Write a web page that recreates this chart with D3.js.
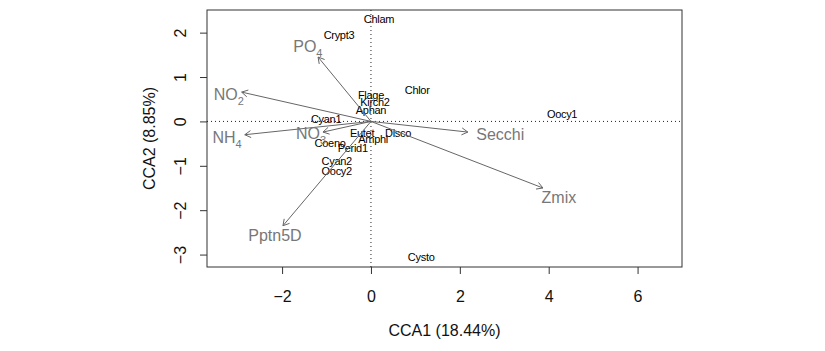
<!DOCTYPE html>
<html>
<head>
<meta charset="utf-8">
<script src="https://cdn.jsdelivr.net/npm/d3@7"></script>
<style>
  body { margin: 0; background: #fff; }
  text { font-family: "Liberation Sans", Arial, sans-serif; }
</style>
</head>
<body>
<div id="chart"></div>
<script>
// Species scores (CCA1, CCA2)
var speciesNames = ["Chlam", "Crypt3", "Flage", "Kirch2", "Aphan", "Chlor", "Oocy1", "Cyan1",
  "Eutet", "Disco", "Amphi", "Coeno", "Perid1", "Cyan2", "Oocy2", "Cysto"];
var speciesX = [0.18, -0.72, 0.00, 0.09, 0.00, 1.04, 4.30, -1.01,
  -0.20, 0.61, 0.05, -0.92, -0.41, -0.77, -0.77, 1.13];
var speciesY = [2.31, 1.95, 0.60, 0.44, 0.26, 0.71, 0.17, 0.06,
  -0.26, -0.26, -0.39, -0.48, -0.60, -0.89, -1.11, -3.05];

// Environmental biplot arrows: name, subscript, arrow tip, label position
var envNames = ["PO", "NO", "NH", "NO", "Secchi", "Zmix", "Pptn5D"];
var envSub = ["4", "2", "4", "3", "", "", ""];
var envX = [-1.19, -2.91, -2.84, -1.08, 2.18, 3.87, -1.98];
var envY = [1.45, 0.66, -0.30, -0.24, -0.24, -1.50, -2.35];
var envLabelX = [-1.42, -3.20, -3.24, -1.35, 2.91, 4.23, -2.16];
var envLabelY = [1.70, 0.60, -0.37, -0.26, -0.30, -1.72, -2.56];

var xTicks = [-2, 0, 2, 4, 6];
var yTicks = [-3, -2, -1, 0, 1, 2];
var xTitle = "CCA1 (18.44%)";
var yTitle = "CCA2 (8.85%)";

var W = 825, H = 351;
var pL = 207, pR = 682, pT = 10, pB = 267;

var svg = d3.select("#chart").append("svg")
  .attr("width", W).attr("height", H);

var x = d3.scaleLinear().domain([-3.69, 7.0]).range([pL, pR]);
var y = d3.scaleLinear().domain([-3.28, 2.51]).range([pB, pT]);
var fmt = d3.format("d");

// Axes
var xAxis = svg.append("g")
  .attr("transform", "translate(0," + pB + ")")
  .call(d3.axisBottom(x).tickValues(xTicks).tickFormat(fmt).tickSize(7).tickPadding(17));
var yAxis = svg.append("g")
  .attr("transform", "translate(" + pL + ",0)")
  .call(d3.axisLeft(y).tickValues(yTicks).tickFormat(fmt).tickSize(7));

[xAxis, yAxis].forEach(function (a) {
  a.select(".domain").remove();
  a.selectAll("line").attr("stroke", "#333");
  a.selectAll("text").attr("font-size", 16).attr("fill", "#111")
    .attr("font-family", "Liberation Sans, Arial, sans-serif");
});
yAxis.selectAll("text")
  .attr("x", 0).attr("dy", 0)
  .attr("text-anchor", "middle")
  .attr("transform", "translate(-21,0) rotate(-90)");

// Box
svg.append("rect")
  .attr("x", pL).attr("y", pT)
  .attr("width", pR - pL).attr("height", pB - pT)
  .attr("fill", "none").attr("stroke", "#333").attr("stroke-width", 1);

// Titles
svg.append("text")
  .attr("x", (pL + pR) / 2).attr("y", 336)
  .attr("text-anchor", "middle").attr("font-size", 16).attr("fill", "#111")
  .text(xTitle);
svg.append("text")
  .attr("transform", "translate(155," + (pT + pB) / 2 + ") rotate(-90)")
  .attr("text-anchor", "middle").attr("font-size", 16).attr("fill", "#111")
  .text(yTitle);

// Zero reference lines
svg.append("line")
  .attr("x1", x(0)).attr("x2", x(0)).attr("y1", pT).attr("y2", pB)
  .attr("stroke", "#222").attr("stroke-dasharray", "1,3");
svg.append("line")
  .attr("x1", pL).attr("x2", pR).attr("y1", y(0)).attr("y2", y(0))
  .attr("stroke", "#222").attr("stroke-dasharray", "1,3");

// Species labels
svg.append("g").selectAll("text")
  .data(speciesNames)
  .join("text")
  .attr("x", function (d, i) { return x(speciesX[i]); })
  .attr("y", function (d, i) { return y(speciesY[i]); })
  .attr("dy", "0.35em")
  .attr("text-anchor", "middle")
  .attr("font-size", 11)
  .attr("letter-spacing", -0.3)
  .attr("fill", "#000")
  .text(function (d) { return d; });

// Arrows
var arrowColor = "#666", headLen = 7, headAng = Math.PI / 6;
var arrows = svg.append("g").attr("stroke", arrowColor).attr("stroke-width", 1).attr("fill", "none");
envNames.forEach(function (n, i) {
  var x0 = x(0), y0 = y(0), x1 = x(envX[i]), y1 = y(envY[i]);
  var ang = Math.atan2(y1 - y0, x1 - x0);
  arrows.append("line")
    .attr("x1", x0).attr("y1", y0).attr("x2", x1).attr("y2", y1);
  arrows.append("path")
    .attr("d", "M" + (x1 - headLen * Math.cos(ang - headAng)) + "," + (y1 - headLen * Math.sin(ang - headAng)) +
      "L" + x1 + "," + y1 +
      "L" + (x1 - headLen * Math.cos(ang + headAng)) + "," + (y1 - headLen * Math.sin(ang + headAng)));
});

// Env labels (with chemical subscripts)
envNames.forEach(function (n, i) {
  var t = svg.append("text")
    .attr("x", x(envLabelX[i]))
    .attr("y", y(envLabelY[i]))
    .attr("dy", "0.35em")
    .attr("text-anchor", "middle")
    .attr("font-size", 16)
    .attr("fill", "#777");
  t.append("tspan").text(n);
  if (envSub[i]) {
    t.append("tspan").attr("font-size", 11).attr("dy", 5).text(envSub[i]);
  }
});
</script>
</body>
</html>
